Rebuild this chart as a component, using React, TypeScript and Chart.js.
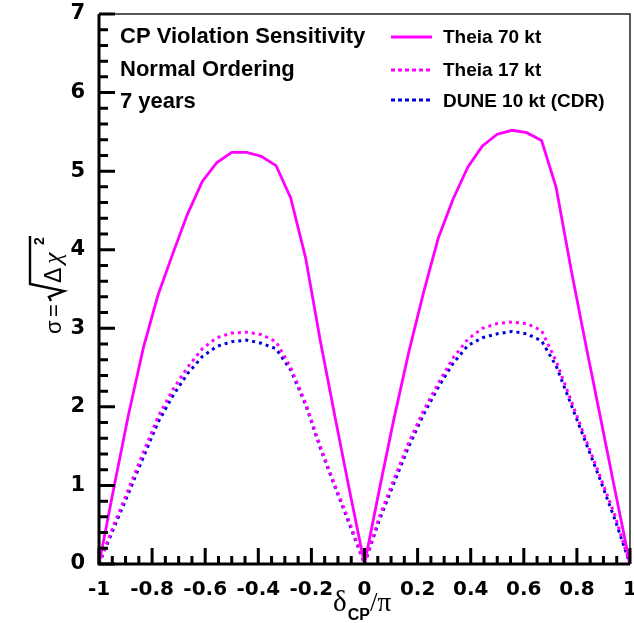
import React, { useEffect, useRef } from 'react';
import { Chart, registerables } from 'chart.js';

Chart.register(...registerables);

// δCP/π sampling points (10° steps)
const deltaOverPi = [
  -1, -0.944, -0.889, -0.833, -0.778, -0.722, -0.667, -0.611, -0.556, -0.5,
  -0.444, -0.389, -0.333, -0.278, -0.222, -0.167, -0.111, -0.056, 0,
  0.056, 0.111, 0.167, 0.222, 0.278, 0.333, 0.389, 0.444, 0.5, 0.556,
  0.611, 0.667, 0.722, 0.778, 0.833, 0.889, 0.944, 1,
];

const theia70 = [
  0, 0.97, 1.9, 2.75, 3.42, 3.95, 4.45, 4.87, 5.11, 5.24,
  5.24, 5.19, 5.07, 4.66, 3.9, 2.85, 1.87, 0.93, 0,
  0.95, 1.85, 2.7, 3.45, 4.15, 4.64, 5.05, 5.32, 5.47, 5.52,
  5.49, 5.39, 4.79, 3.75, 2.8, 1.86, 0.93, 0,
];

const theia17 = [
  0, 0.5, 0.95, 1.42, 1.87, 2.22, 2.5, 2.74, 2.88, 2.94,
  2.95, 2.92, 2.83, 2.5, 2.05, 1.5, 1.0, 0.53, 0,
  0.6, 1.08, 1.55, 1.95, 2.3, 2.62, 2.86, 3.0, 3.06, 3.08,
  3.06, 2.97, 2.58, 2.08, 1.59, 1.1, 0.61, 0,
];

const dune10 = [
  0, 0.46, 0.9, 1.36, 1.8, 2.14, 2.42, 2.64, 2.77, 2.83,
  2.85, 2.81, 2.74, 2.47, 2.03, 1.48, 0.98, 0.5, 0,
  0.56, 1.03, 1.5, 1.9, 2.25, 2.55, 2.78, 2.88, 2.93, 2.96,
  2.93, 2.84, 2.52, 2.03, 1.55, 1.06, 0.56, 0,
];

const seriesLabels = ['Theia 70 kt', 'Theia 17 kt', 'DUNE 10 kt (CDR)'];
const seriesColors = ['#ff00ff', '#ff00ff', '#0000dd'];
const seriesDashed = [false, true, true];

const xTickValues = [-1, -0.8, -0.6, -0.4, -0.2, 0, 0.2, 0.4, 0.6, 0.8, 1];
const yTickValues = [0, 1, 2, 3, 4, 5, 6, 7];

const headerLines = ['CP Violation Sensitivity', 'Normal Ordering', '7 years'];

const W = 634;
const H = 623;

const decorPlugin = {
  id: 'rootDecor',
  afterDraw(chart: any) {
    const { ctx, chartArea } = chart;
    const { left, right, top, bottom } = chartArea;
    const xs = chart.scales.x;
    const ys = chart.scales.y;
    ctx.save();

    // frame: thin top/right
    ctx.strokeStyle = '#222';
    ctx.lineWidth = 1.5;
    ctx.beginPath();
    ctx.moveTo(left, top);
    ctx.lineTo(right, top);
    ctx.lineTo(right, bottom);
    ctx.stroke();

    // thick left/bottom axes
    ctx.strokeStyle = '#000';
    ctx.lineWidth = 3;
    ctx.beginPath();
    ctx.moveTo(left, top);
    ctx.lineTo(left, bottom);
    ctx.lineTo(right, bottom);
    ctx.stroke();

    // y ticks (inward)
    ctx.lineWidth = 3;
    ctx.beginPath();
    for (let i = 0; i <= 35; i++) {
      const py = ys.getPixelForValue(i * 0.2);
      const major = i % 5 === 0;
      ctx.moveTo(left, py);
      ctx.lineTo(left + (major ? 16 : 9), py);
    }
    // x ticks (inward)
    for (let i = 0; i <= 40; i++) {
      const px = xs.getPixelForValue(-1 + i * 0.05);
      const major = i % 4 === 0;
      ctx.moveTo(px, bottom);
      ctx.lineTo(px, bottom - (major ? 16 : 8));
    }
    ctx.stroke();

    // header text
    ctx.fillStyle = '#000';
    ctx.textAlign = 'left';
    ctx.textBaseline = 'alphabetic';
    ctx.font = 'bold 22px "Liberation Sans", Arial, sans-serif';
    const baselines = [43, 76, 108];
    headerLines.forEach((t, i) => ctx.fillText(t, 120, baselines[i]));

    // legend
    const legY = [37, 70, 100];
    const legTextY = [43, 76, 107];
    ctx.font = 'bold 19px "Liberation Sans", Arial, sans-serif';
    seriesLabels.forEach((lab, i) => {
      ctx.save();
      ctx.strokeStyle = seriesColors[i];
      ctx.lineWidth = 3;
      ctx.setLineDash(seriesDashed[i] ? [4, 3] : []);
      ctx.beginPath();
      ctx.moveTo(391, legY[i]);
      ctx.lineTo(432, legY[i]);
      ctx.stroke();
      ctx.restore();
      ctx.fillStyle = '#000';
      ctx.fillText(lab, 443, legTextY[i]);
    });

    // x axis title: δ_CP / π
    ctx.fillStyle = '#000';
    ctx.font = '29px "Liberation Serif", "DejaVu Serif", serif';
    let cx = 333;
    ctx.fillText('δ', cx, 611);
    cx += ctx.measureText('δ').width + 1;
    ctx.font = 'bold 16px "Liberation Sans", Arial, sans-serif';
    ctx.fillText('CP', cx, 620);
    cx += ctx.measureText('CP').width;
    ctx.font = '27px "Liberation Serif", "DejaVu Serif", serif';
    ctx.fillText('/π', cx, 611);

    // y axis title: σ = sqrt(Δχ²), rotated
    ctx.save();
    ctx.translate(61, 334);
    ctx.rotate(-Math.PI / 2);
    ctx.font = '22px "Liberation Sans", Arial, sans-serif';
    ctx.fillText('σ', 0, 0);
    ctx.fillText('=', 17, 0);
    ctx.strokeStyle = '#000';
    ctx.lineWidth = 2.4;
    ctx.beginPath();
    ctx.moveTo(33, -10);
    ctx.lineTo(37, -12);
    ctx.lineTo(43, 3);
    ctx.lineTo(50, -31);
    ctx.lineTo(98, -31);
    ctx.stroke();
    ctx.font = '23px "Liberation Sans", Arial, sans-serif';
    ctx.fillText('Δ', 51, 0);
    ctx.font = 'italic 26px "Liberation Serif", serif';
    ctx.fillText('χ', 70, 0);
    ctx.font = 'bold 14px "Liberation Sans", Arial, sans-serif';
    ctx.fillText('2', 89, -17);
    ctx.restore();

    ctx.restore();
  },
};

function fmtX(v: number) {
  const r = Math.round(v * 10) / 10;
  return r === 0 ? '0' : String(r);
}

export default function App() {
  const canvasRef = useRef<HTMLCanvasElement | null>(null);

  useEffect(() => {
    const canvas = canvasRef.current;
    if (!canvas) return;
    const series = [theia70, theia17, dune10];
    const chart = new Chart(canvas, {
      type: 'line',
      data: {
        datasets: series.map((vals, i) => ({
          label: seriesLabels[i],
          data: deltaOverPi.map((x, j) => ({ x, y: vals[j] })),
          borderColor: seriesColors[i],
          backgroundColor: seriesColors[i],
          borderWidth: i === 0 ? 2.8 : 3,
          borderDash: seriesDashed[i] ? [3, 4] : [],
          pointRadius: 0,
          tension: 0,
          fill: false,
        })),
      },
      options: {
        responsive: false,
        animation: false,
        devicePixelRatio: 1,
        layout: { padding: { top: 14, right: 4, left: 0, bottom: 0 } },
        plugins: {
          legend: { display: false },
          tooltip: { enabled: false },
        },
        scales: {
          x: {
            type: 'linear',
            min: -1,
            max: 1,
            grid: { display: false },
            border: { display: false },
            afterBuildTicks: (s: any) => {
              s.ticks = xTickValues.map((v) => ({ value: v }));
            },
            ticks: {
              autoSkip: false,
              maxRotation: 0,
              padding: 6,
              color: '#000',
              font: { family: '"DejaVu Sans", sans-serif', weight: 'bold', size: 20 },
              callback: (v: any) => fmtX(Number(v)),
            },
            afterFit: (s: any) => {
              s.height = 59;
              s.paddingLeft = 0;
              s.paddingRight = 0;
            },
          },
          y: {
            type: 'linear',
            min: 0,
            max: 7,
            grid: { display: false },
            border: { display: false },
            afterBuildTicks: (s: any) => {
              s.ticks = yTickValues.map((v) => ({ value: v }));
            },
            ticks: {
              padding: 6,
              color: '#000',
              font: { family: '"DejaVu Sans", sans-serif', weight: 'bold', size: 21 },
              callback: (v: any) => String(v),
            },
            afterFit: (s: any) => {
              s.width = 99;
              s.paddingTop = 0;
              s.paddingBottom = 0;
            },
          },
        },
      },
      plugins: [decorPlugin],
    } as any);
    return () => chart.destroy();
  }, []);

  return (
    <div style={{ position: 'absolute', left: 0, top: 0, width: W, height: H, background: '#fff' }}>
      <canvas ref={canvasRef} width={W} height={H} style={{ display: 'block' }} />
    </div>
  );
}
